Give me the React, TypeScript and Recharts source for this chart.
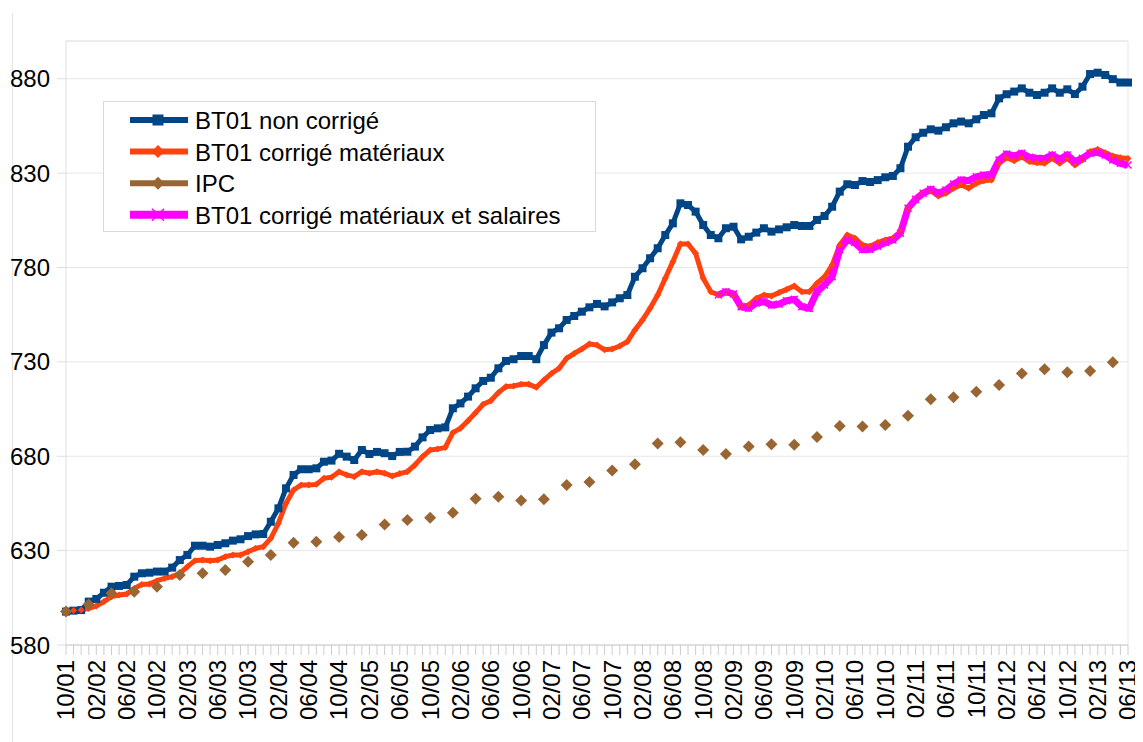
import React from 'react';
import { LineChart, Line, XAxis, YAxis, CartesianGrid, ReferenceLine } from 'recharts';

// Monthly categories from 10/01 to 06/13
const months: string[] = (() => {
  const out: string[] = [];
  let m = 10;
  let y = 1;
  for (let k = 0; k < 141; k++) {
    out.push(`${String(m).padStart(2, '0')}/${String(y).padStart(2, '0')}`);
    m++;
    if (m > 12) { m = 1; y++; }
  }
  return out;
})();

const bt01: number[] = [
  597.7, 598.2, 598.5, 603.0, 604.4, 607.7, 610.9, 611.3, 611.8, 616.2,
  618.0, 618.3, 618.9, 618.9, 621.0, 625.0, 627.7, 632.6, 632.6, 632.1,
  633.0, 633.9, 635.3, 636.0, 637.7, 638.6, 638.8, 645.3, 652.4, 663.0,
  670.1, 673.1, 673.1, 673.6, 677.1, 677.7, 681.3, 679.8, 678.0, 683.3,
  681.2, 682.3, 681.6, 680.1, 682.3, 682.4, 685.1, 690.0, 693.9, 694.8,
  695.3, 705.4, 708.0, 711.6, 716.0, 719.9, 721.6, 726.6, 730.5, 731.4,
  733.1, 733.1, 731.4, 738.9, 745.5, 747.8, 752.2, 754.3, 756.6, 758.9,
  760.7, 759.4, 761.5, 763.7, 765.4, 775.1, 779.6, 784.9, 790.2, 797.2,
  803.4, 814.0, 813.1, 809.6, 802.5, 797.2, 795.5, 800.8, 801.6, 794.9,
  796.3, 798.5, 800.8, 799.0, 800.2, 801.3, 802.5, 802.0, 802.0, 805.2,
  807.3, 812.2, 820.2, 824.1, 823.7, 825.8, 825.3, 826.3, 827.8, 828.5,
  832.6, 844.0, 849.0, 851.4, 853.2, 852.5, 854.3, 856.4, 857.3, 856.4,
  858.5, 860.8, 861.7, 869.6, 871.8, 873.2, 874.9, 872.6, 871.4, 872.6,
  874.9, 872.6, 874.4, 871.9, 875.8, 882.5, 883.2, 882.0, 879.8, 878.0,
  878.0,
];

const bt01Mat: number[] = [
  597.7, 598.3, 598.5, 599.4, 600.7, 603.0, 605.6, 606.5, 607.0, 610.0,
  612.1, 612.3, 614.1, 615.3, 616.2, 618.0, 621.5, 624.7, 625.0, 624.7,
  625.0, 626.8, 627.7, 627.7, 629.4, 631.2, 632.1, 636.5, 644.5, 655.1,
  662.1, 664.8, 664.8, 665.1, 668.3, 668.9, 671.8, 670.1, 669.2, 671.8,
  671.0, 671.8, 671.0, 669.5, 670.8, 671.8, 675.4, 679.8, 683.3, 683.8,
  684.7, 692.5, 694.8, 698.8, 703.1, 707.5, 709.4, 713.7, 716.9, 717.2,
  718.1, 718.1, 716.5, 720.4, 723.9, 726.6, 731.9, 734.5, 736.8, 739.5,
  738.9, 736.4, 736.8, 738.4, 740.7, 746.9, 752.2, 758.4, 765.4, 774.3,
  783.1, 792.5, 792.5, 787.5, 774.3, 767.2, 765.4, 767.2, 765.4, 759.2,
  760.1, 763.7, 765.4, 764.9, 766.7, 768.4, 770.2, 767.2, 767.2, 771.6,
  775.1, 781.3, 791.9, 797.2, 795.5, 791.9, 791.2, 793.2, 794.6, 795.5,
  799.0, 811.4, 816.1, 819.3, 820.7, 817.9, 819.3, 822.0, 823.7, 822.0,
  824.6, 826.0, 826.4, 835.2, 838.2, 836.6, 838.7, 836.1, 835.5, 835.2,
  837.9, 835.2, 837.9, 834.3, 837.0, 841.4, 842.6, 840.8, 839.1, 838.2,
  837.7,
];

// Quarterly CPI, starting 10/01 (every 3 months)
const ipcQuarterly: number[] = [
  597.7, 601.4, 607.4, 608.2, 610.9, 617.1, 618.0, 619.7, 624.1, 627.7,
  634.2, 634.7, 637.2, 638.3, 643.9, 646.2, 647.4, 650.1, 657.5, 658.6,
  656.5, 657.2, 664.8, 666.4, 672.5, 675.8, 686.8, 687.4, 683.3, 681.2,
  685.1, 686.3, 686.1, 690.2, 696.0, 695.7, 696.6, 701.5, 710.2, 711.2,
  714.2, 717.7, 723.9, 726.1, 724.5, 725.2, 729.8,
];

// BT01 corrected for materials and wages, starting 12/08
const matSalStart = '12/08';
const bt01MatSal: number[] = [
  765.4, 767.2, 766.0, 759.2, 758.4, 761.2, 761.9, 760.1, 760.6, 762.4,
  763.1, 759.2, 758.4, 767.2, 770.7, 775.1, 789.4, 794.7, 793.2, 789.4,
  789.6, 791.3, 793.2, 794.6, 798.1, 811.4, 816.1, 819.3, 821.4, 819.3,
  821.1, 824.2, 826.4, 826.0, 828.1, 829.0, 829.0, 837.0, 840.1, 839.1,
  840.5, 838.4, 837.9, 837.7, 839.6, 837.3, 839.6, 836.1, 837.9, 840.5,
  841.0, 839.6, 837.0, 835.2, 834.3,
];

const yTicks: number[] = [580, 630, 680, 730, 780, 830, 880];

const startIdx = months.indexOf(matSalStart);
const data = months.map((month, i) => ({
  month,
  bt01: bt01[i],
  mat: bt01Mat[i],
  ipc: i % 3 === 0 ? ipcQuarterly[i / 3] : null,
  matSal: i >= startIdx ? bt01MatSal[i - startIdx] : null,
}));

const BLUE = '#004586';
const ORANGE = '#ff420e';
const BROWN = '#996633';
const MAGENTA = '#ff00ff';
const FONT = "'Liberation Sans', Arial, sans-serif";

const SquareDot = (props: any) => {
  const { cx, cy, value, index } = props;
  if (value == null || cx == null || cy == null) return <g key={`sq-${index}`} />;
  return <rect key={`sq-${index}`} x={cx - 4} y={cy - 4} width={8} height={8} fill={BLUE} />;
};

const makeDiamond = (color: string, r: number, prefix: string) => (props: any) => {
  const { cx, cy, value, index } = props;
  if (value == null || cx == null || cy == null) return <g key={`${prefix}-${index}`} />;
  return (
    <path
      key={`${prefix}-${index}`}
      d={`M${cx},${cy - r} L${cx + r},${cy} L${cx},${cy + r} L${cx - r},${cy} Z`}
      fill={color}
    />
  );
};

const OrangeDot = makeDiamond(ORANGE, 3.5, 'od');
const IpcDot = makeDiamond(BROWN, 6, 'ip');

const CrossDot = (props: any) => {
  const { cx, cy, value, index } = props;
  if (value == null || cx == null || cy == null) return <g key={`cx-${index}`} />;
  const r = 3.5;
  return (
    <path
      key={`cx-${index}`}
      d={`M${cx - r},${cy - r} L${cx + r},${cy + r} M${cx - r},${cy + r} L${cx + r},${cy - r}`}
      stroke={MAGENTA}
      strokeWidth={1.5}
    />
  );
};

const XTick = (props: any) => {
  const { x, y, payload, index } = props;
  if (index % 4 !== 0) return <g />;
  return (
    <text
      x={0}
      y={0}
      dy="0.35em"
      textAnchor="end"
      fontSize={24}
      fontFamily={FONT}
      fill="#000"
      transform={`translate(${x},${y}) rotate(-90)`}
    >
      {payload.value}
    </text>
  );
};

const legendItems = [
  { label: 'BT01 non corrigé', color: BLUE, width: 6, marker: 'square' },
  { label: 'BT01 corrigé matériaux', color: ORANGE, width: 6, marker: 'diamond' },
  { label: 'IPC', color: BROWN, width: 6, marker: 'diamond' },
  { label: 'BT01 corrigé matériaux et salaires', color: MAGENTA, width: 8, marker: 'cross' },
];

const Legend = () => (
  <div
    style={{
      position: 'absolute',
      left: 95,
      top: 93,
      width: 493,
      height: 131,
      border: '1px solid #d9d9d9',
      background: '#fff',
      boxSizing: 'border-box',
    }}
  >
    <svg width={493} height={131} style={{ position: 'absolute', left: -1, top: -1 }}>
      {legendItems.map((it, k) => {
        const cy = 19 + k * 31.6;
        const cx = 55;
        let marker: React.ReactNode = null;
        if (it.marker === 'square') {
          marker = <rect x={cx - 5.5} y={cy - 5.5} width={11} height={11} fill={it.color} />;
        } else if (it.marker === 'diamond') {
          marker = (
            <path d={`M${cx},${cy - 6.5} L${cx + 6.5},${cy} L${cx},${cy + 6.5} L${cx - 6.5},${cy} Z`} fill={it.color} />
          );
        } else {
          marker = (
            <path
              d={`M${cx - 6},${cy - 6} L${cx + 6},${cy + 6} M${cx - 6},${cy + 6} L${cx + 6},${cy - 6}`}
              stroke={it.color}
              strokeWidth={1.5}
            />
          );
        }
        return (
          <g key={it.label}>
            <line x1={27} x2={85} y1={cy} y2={cy} stroke={it.color} strokeWidth={it.width} />
            {marker}
            <text x={92} y={cy + 9} fontSize={24} fontFamily={FONT} fill="#000">
              {it.label}
            </text>
          </g>
        );
      })}
    </svg>
  </div>
);

export default function App() {
  return (
    <div style={{ position: 'relative', width: 1135, height: 734, fontFamily: FONT, background: '#fff' }}>
      <div style={{ position: 'absolute', left: 4, top: 5, bottom: 0, width: 1, background: '#e3e3e3' }} />
      <LineChart
        width={1135}
        height={734}
        data={data}
        margin={{ top: 33, right: 15, bottom: 0, left: 0 }}
      >
        <CartesianGrid vertical={false} stroke="#e6e6e6" />
        <ReferenceLine y={900} stroke="#e6e6e6" />
        <ReferenceLine x="06/13" stroke="#e6e6e6" />
        <XAxis
          dataKey="month"
          interval={0}
          height={97}
          tickSize={10}
          tickMargin={5}
          tickLine={{ stroke: '#cccccc' }}
          axisLine={{ stroke: '#cccccc' }}
          tick={<XTick />}
        />
        <YAxis
          type="number"
          domain={[580, 900]}
          ticks={yTicks}
          interval={0}
          width={58}
          tickSize={9}
          tickMargin={7}
          allowDataOverflow
          tickLine={{ stroke: '#dddddd' }}
          axisLine={{ stroke: '#dddddd' }}
          tick={{ fontSize: 24, fill: '#000', fontFamily: FONT }}
        />
        <Line
          type="linear"
          dataKey="bt01"
          stroke={BLUE}
          strokeWidth={5}
          dot={SquareDot}
          activeDot={false}
          isAnimationActive={false}
        />
        <Line
          type="linear"
          dataKey="mat"
          stroke={ORANGE}
          strokeWidth={5}
          dot={OrangeDot}
          activeDot={false}
          isAnimationActive={false}
        />
        <Line
          type="linear"
          dataKey="ipc"
          stroke="none"
          dot={IpcDot}
          activeDot={false}
          isAnimationActive={false}
        />
        <Line
          type="linear"
          dataKey="matSal"
          stroke={MAGENTA}
          strokeWidth={7}
          dot={CrossDot}
          activeDot={false}
          isAnimationActive={false}
        />
      </LineChart>
      <Legend />
    </div>
  );
}
